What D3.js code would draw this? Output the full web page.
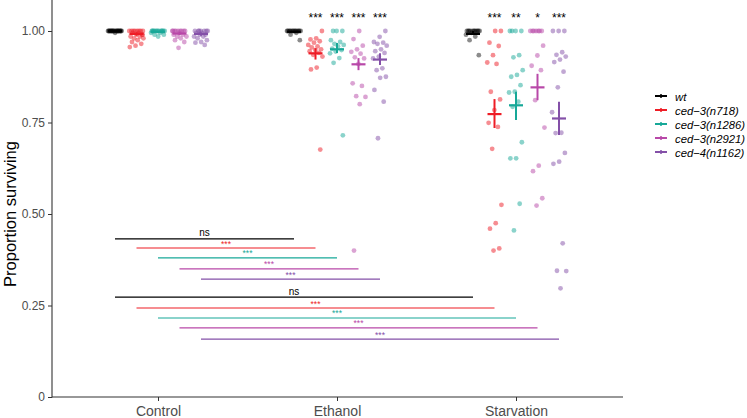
<!DOCTYPE html>
<html><head><meta charset="utf-8">
<script src="https://cdn.jsdelivr.net/npm/d3@7"></script>
<style>body{margin:0;background:#fff}svg{display:block}text{font-family:"Liberation Sans",Arial,sans-serif}</style>
</head><body><svg id="c" width="747" height="418"></svg>
<script>
const conditions = ["Control","Ethanol","Starvation"];
const genotypes = ["wt","ced-3(n718)","ced-3(n1286)","ced-3(n2921)","ced-4(n1162)"];
const colors = ["#000000","#EE1C25","#17A898","#B848A8","#8450A8"];
const yTicks = [0,0.25,0.5,0.75,1];
const yTickLabels = ["0","0.25","0.50","0.75","1.00"];

// individual points [condition][genotype]
const controlPts = [
  [1,1,1,1,1,1,1,1,1,1,1,1,1,1,1,1,0.995,1,1,1],
  [1,1,1,1,1,1,0.995,0.995,0.99,0.99,0.985,0.985,0.98,0.98,0.975,0.97,0.965,0.96,0.956,1,1,0.99],
  [1,1,1,1,1,1,1,1,1,1,1,0.995,0.995,0.99,0.99,0.985,1,1],
  [1,1,1,1,1,1,1,1,0.995,0.99,0.99,0.985,0.985,0.98,0.975,0.97,0.954,1],
  [1,1,1,1,1,1,0.995,0.995,0.99,0.99,0.985,0.985,0.98,0.975,0.97,0.968,0.962,1]
];
const ethanolPts = [
  [1,1,1,1,1,1,1,1,1,1,1,1,1,0.995,0.99,0.975],
  [1,0.98,0.977,0.972,0.968,0.962,0.958,0.955,0.95,0.948,0.945,0.94,0.935,0.93,0.9,0.895,0.676],
  [1,1,1,0.975,0.97,0.965,0.962,0.958,0.952,0.948,0.944,0.939,0.926,0.913,0.715],
  [1,0.978,0.96,0.95,0.943,0.938,0.928,0.925,0.91,0.857,0.85,0.822,0.82,0.80,0.40],
  [1,0.984,0.97,0.968,0.965,0.96,0.95,0.945,0.94,0.93,0.925,0.898,0.893,0.875,0.872,0.839,0.807,0.707]
];
const starvationPts = [
  [1,1,1,1,1,1,1,1,1,1,1,0.995,0.99,0.985,0.975,0.934],
  [1,1,0.968,0.959,0.934,0.914,0.91,0.834,0.813,0.784,0.749,0.738,0.678,0.525,0.475,0.46,0.406,0.40],
  [1,1,1,1,0.934,0.928,0.893,0.88,0.875,0.852,0.834,0.832,0.807,0.793,0.696,0.652,0.652,0.528,0.455],
  [1,1,1,1,1,1,1,0.96,0.933,0.905,0.893,0.811,0.736,0.632,0.617,0.543,0.523],
  [1,1,1,0.942,0.935,0.93,0.922,0.915,0.889,0.846,0.778,0.722,0.721,0.667,0.643,0.637,0.42,0.345,0.344,0.297]
];
// mean and error bar limits [condition][genotype]
const means = [[1.0,0.992,0.998,0.993,0.992],[0.998,0.939,0.95,0.909,0.922],[0.992,0.773,0.797,0.846,0.761]];
const lows  = [[0.998,0.987,0.996,0.988,0.987],[0.995,0.922,0.94,0.893,0.907],[0.989,0.735,0.757,0.811,0.716]];
const highs = [[1.0,0.996,1.0,0.997,0.996],[1.0,0.953,0.967,0.926,0.939],[1.0,0.814,0.834,0.883,0.807]];
// significance stars above each group vs wt
const ethanolStars = ["","***","***","***","***"];
const starvationStars = ["","***","**","*","***"];
// comparisons Control vs Ethanol / Control vs Starvation per genotype
const cmpEthanolLabels = ["ns","***","***","***","***"];
const cmpEthanolY = [0.432,0.407,0.380,0.350,0.322];
const cmpStarvLabels = ["ns","***","***","***","***"];
const cmpStarvY = [0.273,0.243,0.216,0.189,0.158];

const svg = d3.select("#c");
const y = d3.scaleLinear().domain([0,1]).range([397,31]);
const x = d3.scalePoint().domain(conditions).range([158,516]);
const dx = d3.scaleBand().domain(genotypes).range([-53.75,53.75]);
const gx = (c,g) => x(c) + dx(g) + dx.bandwidth()/2;
const col = d3.scaleOrdinal().domain(genotypes).range(colors);
const allPts = [controlPts, ethanolPts, starvationPts];

// axes
const yAxis = d3.axisLeft(y).tickValues(yTicks).tickFormat((d,i)=>yTickLabels[i]).tickSize(4).tickSizeOuter(0);
const ya = svg.append("g").attr("transform","translate(52,0)").call(yAxis);
ya.select(".domain").remove();
ya.append("line").attr("x1",0).attr("x2",0).attr("y1",0).attr("y2",397.5).attr("stroke","#333").attr("stroke-width",1.1);
ya.selectAll(".tick line").attr("stroke","#333");
ya.selectAll(".tick text").attr("fill","#4d4d4d").attr("font-size",12).attr("x",-7);

const xAxis = d3.axisBottom(x).tickSize(4).tickSizeOuter(0);
const xa = svg.append("g").attr("transform","translate(0,397)").call(xAxis);
xa.select(".domain").remove();
xa.append("line").attr("x1",52).attr("x2",623).attr("y1",0).attr("y2",0).attr("stroke","#333").attr("stroke-width",1.1);
xa.selectAll(".tick line").attr("stroke","#333");
xa.selectAll(".tick text").attr("fill","#4d4d4d").attr("font-size",14).attr("dy","0.85em");

svg.append("text").attr("transform","translate(16,214) rotate(-90)").attr("text-anchor","middle")
  .attr("font-size",16.5).attr("fill","#000").text("Proportion surviving");

// points
const pts = [];
conditions.forEach((c,ci)=>genotypes.forEach((g,gi)=>allPts[ci][gi].forEach((v,i)=>{
  const j = (((i+1)*0.6180339887 + gi*0.31) % 1) - 0.5;
  pts.push({c,g,v,j});
})));
svg.append("g").selectAll("circle").data(pts).join("circle")
  .attr("cx",d=>gx(d.c,d.g)+d.j*15).attr("cy",d=>y(d.v)).attr("r",2.4)
  .attr("fill",d=>d.g==="wt"?"#000":col(d.g)).attr("fill-opacity",d=>d.g==="wt"?0.45:0.5);

// crossbars
const cb = svg.append("g");
conditions.forEach((c,ci)=>genotypes.forEach((g,gi)=>{
  const cx = gx(c,g);
  cb.append("line").attr("x1",cx).attr("x2",cx).attr("y1",y(highs[ci][gi])).attr("y2",y(lows[ci][gi]))
    .attr("stroke",col(g)).attr("stroke-width",2);
  cb.append("line").attr("x1",cx-7).attr("x2",cx+7).attr("y1",y(means[ci][gi])).attr("y2",y(means[ci][gi]))
    .attr("stroke",col(g)).attr("stroke-width",2.2);
}));

// stars above groups
const starSets = [["Ethanol",ethanolStars],["Starvation",starvationStars]];
starSets.forEach(([c,labels])=>{
  svg.append("g").selectAll("text").data(labels).join("text")
    .attr("x",(d,i)=>gx(c,genotypes[i])).attr("y",22).attr("text-anchor","middle")
    .attr("font-size",12).attr("fill","#000").text(d=>d);
});

// comparison lines
[["Ethanol",cmpEthanolLabels,cmpEthanolY],["Starvation",cmpStarvLabels,cmpStarvY]].forEach(([c,labels,ys])=>{
  genotypes.forEach((g,gi)=>{
    const x1 = gx("Control",g), x2 = gx(c,g), yy = y(ys[gi]);
    svg.append("line").attr("x1",x1).attr("x2",x2).attr("y1",yy).attr("y2",yy)
      .attr("stroke",col(g)).attr("stroke-width",1.1);
    const isNs = labels[gi]==="ns";
    svg.append("text").attr("x",(x1+x2)/2).attr("y",isNs?yy-2.5:yy-1.5).attr("text-anchor","middle")
      .attr("font-size",isNs?10:8.5).attr("fill",col(g)).text(labels[gi]);
  });
});

// legend
const lg = svg.append("g").attr("transform","translate(655,96)");
genotypes.forEach((g,i)=>{
  const row = lg.append("g").attr("transform",`translate(0,${i*14})`);
  row.append("line").attr("x1",0).attr("x2",12).attr("y1",0).attr("y2",0).attr("stroke",col(g)).attr("stroke-width",2);
  row.append("line").attr("x1",6).attr("x2",6).attr("y1",-2).attr("y2",2).attr("stroke",col(g)).attr("stroke-width",1.5);
  row.append("text").attr("x",20).attr("y",4.5).attr("font-size",11.3).attr("font-style","italic").attr("fill","#000").text(g.replace("-","\u2212"));
});
</script></body></html>
